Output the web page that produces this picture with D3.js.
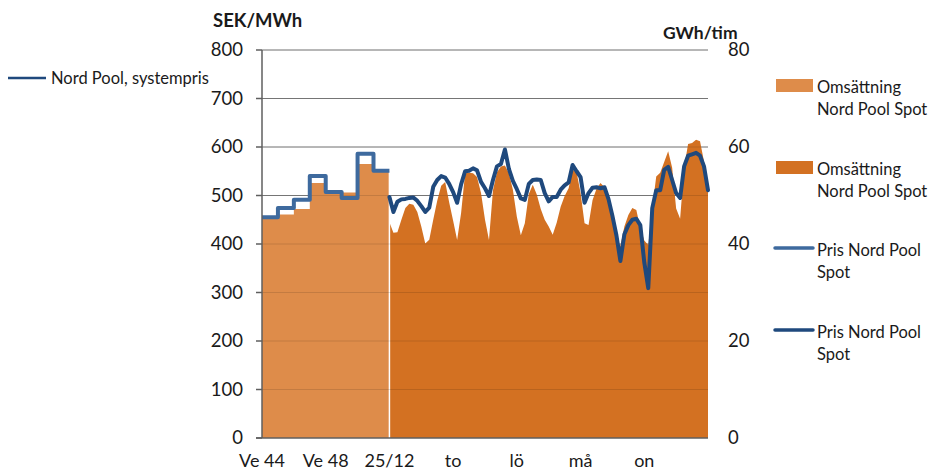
<!DOCTYPE html>
<html>
<head>
<meta charset="utf-8">
<script src="https://cdn.jsdelivr.net/npm/d3@7/dist/d3.min.js"></script>
<style>
  body { margin: 0; background: #fff; }
  text { font-family: Lato, "Liberation Sans", sans-serif; fill: #1a1a1a; }
</style>
</head>
<body>
<div id="chart"></div>
<script>
// x axis labels and where they sit (one slot = one week, two slots = one day)
var xLabels = ["Ve 44", "Ve 48", "25/12", "to", "lö", "må", "on"];
var xLabelSlots = [0, 4, 8, 12, 16, 20, 24];

var leftTicks = [0, 100, 200, 300, 400, 500, 600, 700, 800];
var rightTicks = [0, 20, 40, 60, 80];

// weekly values, Ve 44 - Ve 51
var weekPrice = [455, 474, 491, 540, 507, 495, 586, 551];   // SEK/MWh
var weekVolume = [45.3, 46.1, 47.2, 52.6, 51.0, 50.6, 56.5, 55.0]; // GWh/tim

// every third hour from 25/12 00:00
var hourPrice = [497, 466, 487, 492, 493, 495, 496, 489, 478, 466,
    475, 518, 532, 540, 537, 524, 507, 485, 523, 550,
    551, 556, 552, 528, 515, 499, 532, 560, 565, 595,
    555, 530, 513, 494, 491, 524, 532, 533, 532, 505,
    488, 497, 497, 512, 521, 527, 563, 550, 538, 485,
    505, 516, 517, 515, 517, 493, 458, 418, 365, 420,
    439, 450, 452, 439, 362, 309, 474, 511, 511, 553,
    559, 532, 505, 495, 560, 582, 585, 588, 582, 560, 511];
var hourVolume = [44.5, 42.3, 42.4, 45.0, 47.4, 48.3, 48.1, 46.6, 43.6, 40.1,
    40.9, 45.0, 48.9, 52.0, 52.8, 48.6, 44.8, 40.8, 46.4, 54.6,
    54.7, 54.6, 53.8, 50.5, 45.0, 40.8, 51.1, 54.8, 56.0, 56.2,
    54.6, 51.2, 45.6, 41.8, 44.3, 50.3, 52.2, 50.2, 47.2, 45.0,
    43.6, 41.9, 44.4, 47.7, 49.9, 51.5, 55.3, 54.8, 50.5, 44.3,
    43.9, 49.0, 51.4, 52.6, 51.7, 49.5, 45.6, 40.8, 39.6, 43.6,
    46.0, 47.4, 47.0, 43.3, 40.7, 39.8, 47.4, 53.9, 54.7, 56.9,
    59.1, 55.7, 47.3, 45.2, 55.7, 60.6, 60.8, 61.5, 61.2, 57.0, 51.5];

var legendItems = [
    {type: "rect", color: "#de8c4a", lines: ["Omsättning", "Nord Pool Spot"]},
    {type: "rect", color: "#d37122", lines: ["Omsättning", "Nord Pool Spot"]},
    {type: "line", color: "#3e6a9e", lines: ["Pris Nord Pool", "Spot"]},
    {type: "line", color: "#1f497d", lines: ["Pris Nord Pool", "Spot"]}
];

function drawChart(){

    var width = 929, height = 473;
    var svg = d3.select("#chart").append("svg")
        .attr("width", width)
        .attr("height", height);

    var x = d3.scaleLinear().domain([0, 28]).range([262, 708]);
    var yL = d3.scaleLinear().domain([0, 800]).range([438, 50]);
    var yR = d3.scaleLinear().domain([0, 80]).range([438, 50]);

    // data points
    var weekVol = weekVolume.map(function(v, i){ return {x: i, v: v}; });
    weekVol.push({x: 8, v: weekVolume[7]});
    var weekPr = weekPrice.map(function(v, i){ return {x: i, v: v}; });
    weekPr.push({x: 8, v: weekPrice[7]});
    var hourVol = hourVolume.map(function(v, i){ return {x: 8 + i / 4, v: v}; });
    var hourPr = hourPrice.map(function(v, i){ return {x: 8 + i / 4, v: v}; });

    var gridVals = leftTicks.filter(function(d){ return d > 0; });

    // grid behind
    svg.append("g").selectAll("line").data(gridVals).enter().append("line")
        .attr("x1", x(0)).attr("x2", x(28))
        .attr("y1", function(d){ return yL(d); })
        .attr("y2", function(d){ return yL(d); })
        .attr("stroke", "#868686").attr("stroke-width", 1);

    // areas
    var weekArea = d3.area().curve(d3.curveStepAfter)
        .x(function(d){ return x(d.x); })
        .y0(yR(0)).y1(function(d){ return yR(d.v); });
    svg.append("path").datum(weekVol)
        .attr("d", weekArea).attr("fill", "#de8c4a");

    var hourArea = d3.area()
        .x(function(d){ return x(d.x); })
        .y0(yR(0)).y1(function(d){ return yR(d.v); });
    svg.append("path").datum(hourVol)
        .attr("d", hourArea).attr("fill", "#d37122");

    // white gap between the two areas
    svg.append("line")
        .attr("x1", x(8)).attr("x2", x(8))
        .attr("y1", yR(weekVolume[7])).attr("y2", yR(0))
        .attr("stroke", "#fff").attr("stroke-width", 1.5);

    // grid seen through the areas
    svg.append("g").selectAll("line").data(gridVals).enter().append("line")
        .attr("x1", x(0)).attr("x2", x(28))
        .attr("y1", function(d){ return yL(d); })
        .attr("y2", function(d){ return yL(d); })
        .attr("stroke", "#000").attr("stroke-opacity", 0.12);

    // price lines
    var stepLine = d3.line().curve(d3.curveStepAfter)
        .x(function(d){ return x(d.x); })
        .y(function(d){ return yL(d.v); });
    svg.append("path").datum(weekPr)
        .attr("d", stepLine).attr("fill", "none")
        .attr("stroke", "#3e6a9e").attr("stroke-width", 4)
        .attr("stroke-linejoin", "round");

    var hourLine = d3.line()
        .x(function(d){ return x(d.x); })
        .y(function(d){ return yL(d.v); });
    svg.append("path").datum(hourPr)
        .attr("d", hourLine).attr("fill", "none")
        .attr("stroke", "#1f497d").attr("stroke-width", 4)
        .attr("stroke-linejoin", "round").attr("stroke-linecap", "round");

    // left axis
    var leftAxis = svg.append("g");
    leftAxis.append("line")
        .attr("x1", x(0)).attr("x2", x(0))
        .attr("y1", yL(800)).attr("y2", yL(0))
        .attr("stroke", "#5f5f5f").attr("stroke-width", 1.5);
    leftAxis.selectAll("line.tick").data(leftTicks).enter().append("line")
        .attr("class", "tick")
        .attr("x1", x(0) - 6).attr("x2", x(0))
        .attr("y1", function(d){ return yL(d); })
        .attr("y2", function(d){ return yL(d); })
        .attr("stroke", "#5f5f5f").attr("stroke-width", 1.5);
    leftAxis.selectAll("text").data(leftTicks).enter().append("text")
        .attr("x", 243)
        .attr("y", function(d){ return yL(d); })
        .attr("dy", "0.35em")
        .attr("text-anchor", "end")
        .attr("font-size", 18.5)
        .text(function(d){ return d; });

    // right axis labels
    svg.append("g").selectAll("text").data(rightTicks).enter().append("text")
        .attr("x", 728)
        .attr("y", function(d){ return yR(d); })
        .attr("dy", "0.35em")
        .attr("font-size", 18.5)
        .text(function(d){ return d; });

    // bottom axis
    svg.append("line")
        .attr("x1", 256).attr("x2", x(28))
        .attr("y1", yL(0)).attr("y2", yL(0))
        .attr("stroke", "#5f5f5f").attr("stroke-width", 1.5);
    svg.append("g").selectAll("text").data(xLabels).enter().append("text")
        .attr("x", function(d, i){ return x(xLabelSlots[i]); })
        .attr("y", 467)
        .attr("text-anchor", "middle")
        .attr("font-size", 18)
        .text(function(d){ return d; });

    // axis titles
    svg.append("text").attr("x", 213).attr("y", 27)
        .attr("font-size", 18.5).attr("font-weight", "bold")
        .text("SEK/MWh");
    svg.append("text").attr("x", 663).attr("y", 39)
        .attr("font-size", 17.5).attr("font-weight", "bold")
        .text("GWh/tim");

    // left legend
    svg.append("line")
        .attr("x1", 8).attr("x2", 46).attr("y1", 78).attr("y2", 78)
        .attr("stroke", "#1f497d").attr("stroke-width", 2.5);
    svg.append("text").attr("x", 51).attr("y", 78).attr("dy", "0.35em")
        .attr("font-size", 16.5)
        .text("Nord Pool, systempris");

    // right legend
    var legY = [87, 169, 250, 332];
    var leg = svg.append("g").selectAll("g").data(legendItems).enter().append("g")
        .attr("transform", function(d, i){ return "translate(0," + legY[i] + ")"; });
    leg.filter(function(d){ return d.type == "rect"; }).append("rect")
        .attr("x", 776).attr("y", -8).attr("width", 37).attr("height", 13)
        .attr("fill", function(d){ return d.color; });
    leg.filter(function(d){ return d.type == "line"; }).append("line")
        .attr("x1", 775).attr("x2", 813).attr("y1", -2).attr("y2", -2)
        .attr("stroke", function(d){ return d.color; })
        .attr("stroke-width", 3.5).attr("stroke-linecap", "round");
    leg.each(function(d){
        var g = d3.select(this);
        d.lines.forEach(function(t, j){
            g.append("text")
                .attr("x", 817).attr("y", j * 22)
                .attr("dy", "0.35em")
                .attr("font-size", 16.5)
                .text(t);
        });
    });
}

drawChart();
</script>
</body>
</html>
